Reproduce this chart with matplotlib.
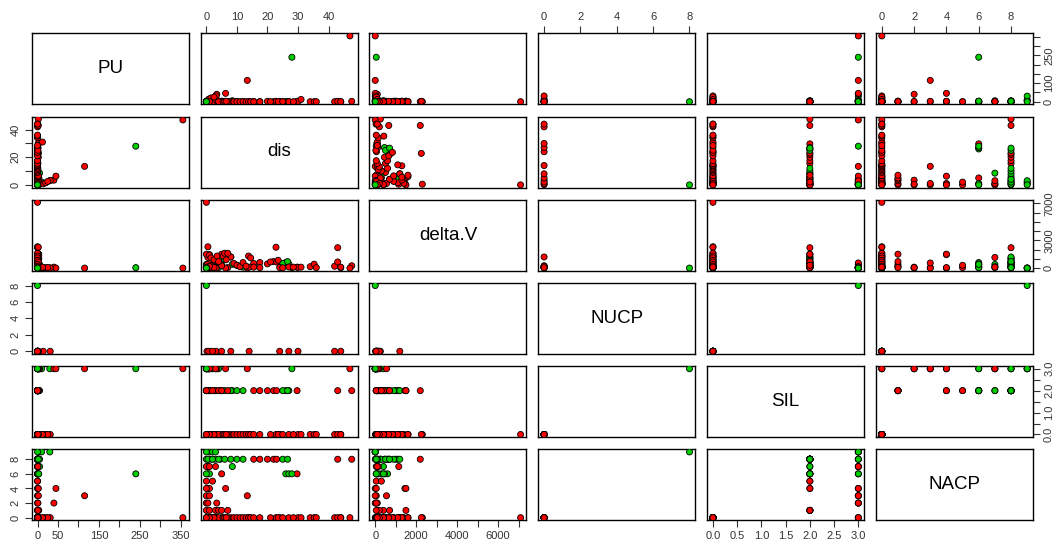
import numpy as np
import matplotlib
matplotlib.use('Agg')
import matplotlib.pyplot as plt

plt.rcParams['font.family'] = ['Liberation Sans', 'DejaVu Sans']

# ---------------- data (one entry per observation, in drawing order) ----------------
var_names = ['PU', 'dis', 'delta.V', 'NUCP', 'SIL', 'NACP']

PU = [
    0, 2,
    0,
    1, 0, 2, 0, 1, 0, 2,
    0, 1, 0, 1, 240, 3,
    5,
    0, 1, 0, 3, 0, 2, 0, 1, 0, 0, 1,
    0, 5, 2,
    5, 10, 30,
    355, 2, 5,
    0, 1, 2, 0, 3, 1,
    0, 40, 1,
    0, 115, 2,
    45, 1, 0, 2,
    0, 0,
    0, 0, 1,
    0, 0, 2, 0, 14, 31, 0, 1, 0, 0, 1, 0, 2, 0, 0, 0, 1, 0, 3, 0, 0, 1, 0, 2, 0,
    20, 25, 12, 0, 0, 1, 0, 0, 0, 0, 0, 0, 0, 1, 0, 0, 0, 0, 2, 0, 0, 0, 1,
    0,
]
dis = [
    5, 29.7,
    0.5,
    15.5, 17.5, 20, 22, 23, 43, 47.6,
    0.5, 1, 26, 27, 28, 0,
    8.5,
    0, 1, 2, 3, 4.5, 6, 8, 10, 12, 25, 26.6,
    0.5, 2, 4,
    1, 2, 3,
    47, 0.5, 1,
    0, 1, 3, 4, 5, 7,
    0, 3.4, 0.5,
    0, 13.4, 1,
    6.3, 0.5, 1, 0,
    0, 2,
    0, 1, 3,
    0, 0.5, 22.8, 0.2, 0.8, 3.2, 2, 5, 8, 14, 24, 27, 30, 42, 44, 1, 1.5, 2.5, 3.5, 4, 5.5, 6, 7, 6.5, 9,
    1.5, 2.5, 31, 10, 11, 12, 13, 13.8, 14.5, 15.5, 17.5, 21, 23.5, 25, 28.5, 34, 35.3, 36, 43, 44, 0.3, 1, 0,
    0,
]
delta_V = [
    300, 100,
    1150,
    500, 600, 450, 700, 650, 2200, 250,
    50, 150, 600, 450, 50, 400,
    400,
    50, 150, 250, 1000, 1100, 900, 1200, 300, 100, 500, 700,
    0, 100, 50,
    0, 0, 0,
    0, 50, 200,
    100, 400, 200, 700, 1500, 50,
    0, 100, 50,
    50, 0, 550,
    0, 50, 1450, 1500,
    50, 300,
    50, 150, 100,
    7100, 2300, 2250, 50, 30, 20, 150, 250, 1200, 100, 60, 120, 80, 200, 40, 1400, 1100, 900, 1300, 700, 1300, 1600, 1600, 900, 500,
    40, 60, 100, 300, 150, 600, 200, 1300, 1100, 100, 50, 660, 840, 30, 100, 150, 420, 50, 660, 100, 400, 200, 100,
    0,
]
nan = np.nan
NUCP = [
    nan, nan,
    nan,
    nan, nan, nan, nan, nan, nan, nan,
    nan, nan, nan, nan, nan, nan,
    nan,
    nan, nan, nan, nan, nan, nan, nan, nan, nan, nan, nan,
    nan, nan, nan,
    nan, nan, nan,
    nan, nan, nan,
    nan, nan, nan, nan, nan, nan,
    nan, nan, nan,
    nan, nan, nan,
    nan, nan, nan, nan,
    nan, nan,
    nan, nan, nan,
    nan, nan, nan, 0, 0, 0, 0, 0, 0, 0, 0, 0, 0, 0, 0, nan, nan, nan, nan, nan, nan, nan, nan, nan, nan,
    nan, nan, nan, nan, nan, nan, nan, nan, nan, nan, nan, nan, nan, nan, nan, nan, nan, nan, nan, nan, nan, nan, nan,
    8,
]
SIL = [
    2, 2,
    2,
    2, 2, 2, 2, 2, 2, 2,
    2, 2, 2, 2, 3, 3,
    2,
    2, 2, 2, 2, 2, 2, 2, 2, 2, 2, 2,
    3, 3, 3,
    3, 3, 3,
    3, 3, 3,
    2, 2, 2, 2, 2, 2,
    3, 3, 3,
    3, 3, 3,
    3, 3, 2, 2,
    2, 2,
    3, 3, 3,
    0, 0, 0, 0, 0, 0, 0, 0, 0, 0, 0, 0, 0, 0, 0, 0, 0, 0, 0, 0, 0, 0, 0, 0, 0,
    0, 0, 0, 0, 0, 0, 0, 0, 0, 0, 0, 0, 0, 0, 0, 0, 0, 0, 0, 0, 0, 0, 0,
    3,
]
NACP = [
    6, 6,
    7,
    8, 8, 8, 8, 8, 8, 8,
    6, 6, 6, 6, 6, 6,
    7,
    8, 8, 8, 8, 8, 8, 8, 8, 8, 8, 8,
    8, 8, 8,
    9, 9, 9,
    0, 0, 0,
    1, 1, 1, 1, 1, 1,
    2, 2, 2,
    3, 3, 3,
    4, 4, 4, 4,
    5, 5,
    7, 7, 7,
    0, 0, 0, 0, 0, 0, 0, 0, 0, 0, 0, 0, 0, 0, 0, 0, 0, 0, 0, 0, 0, 0, 0, 0, 0,
    0, 0, 0, 0, 0, 0, 0, 0, 0, 0, 0, 0, 0, 0, 0, 0, 0, 0, 0, 0, 0, 0, 0,
    9,
]
# class of each observation: 0 = red, 1 = green
cls = [
    0, 0,
    0,
    0, 0, 0, 0, 0, 0, 0,
    1, 1, 1, 1, 1, 1,
    1,
    1, 1, 1, 1, 1, 1, 1, 1, 1, 1, 1,
    1, 1, 1,
    1, 1, 1,
    0, 0, 0,
    0, 0, 0, 0, 0, 0,
    0, 0, 0,
    0, 0, 0,
    0, 0, 0, 0,
    0, 0,
    0, 0, 0,
    0, 0, 0, 0, 0, 0, 0, 0, 0, 0, 0, 0, 0, 0, 0, 0, 0, 0, 0, 0, 0, 0, 0, 0, 0,
    0, 0, 0, 0, 0, 0, 0, 0, 0, 0, 0, 0, 0, 0, 0, 0, 0, 0, 0, 0, 0, 0, 0,
    1,
]
class_colors = ['#FF0000', '#00CD00']

# tick positions and shown labels (R drops overlapping labels)
PU_ticks = [0, 50, 100, 150, 200, 250, 300, 350]
PU_bottom_labels = ['0', '50', '', '150', '', '250', '', '350']
PU_right_labels = ['0', '', '100', '', '', '250', '', '']
dis_ticks = [0, 10, 20, 30, 40]
dis_top_labels = ['0', '10', '20', '30', '40']
dis_left_labels = ['0', '', '20', '', '40']
dV_ticks = [0, 1000, 2000, 3000, 4000, 5000, 6000, 7000]
dV_bottom_labels = ['0', '', '2000', '', '4000', '', '6000', '']
dV_right_labels = ['0', '', '', '3000', '', '', '', '7000']
NUCP_ticks = [0, 2, 4, 6, 8]
NUCP_labels = ['0', '2', '4', '6', '8']
SIL_ticks = [0, 0.5, 1.0, 1.5, 2.0, 2.5, 3.0]
SIL_bottom_labels = ['0.0', '0.5', '1.0', '1.5', '2.0', '2.5', '3.0']
SIL_right_labels = ['0.0', '', '1.0', '', '2.0', '', '3.0']
NACP_ticks = [0, 2, 4, 6, 8]
NACP_labels = ['0', '2', '4', '6', '8']

# ---------------- plotting ----------------
data = [np.array(PU, float), np.array(dis, float), np.array(delta_V, float),
        np.array(NUCP, float), np.array(SIL, float), np.array(NACP, float)]
assert all(len(d) == len(cls) for d in data)
colors = [class_colors[c] for c in cls]

top_ticks = {1: (dis_ticks, dis_top_labels), 3: (NUCP_ticks, NUCP_labels), 5: (NACP_ticks, NACP_labels)}
bottom_ticks = {0: (PU_ticks, PU_bottom_labels), 2: (dV_ticks, dV_bottom_labels), 4: (SIL_ticks, SIL_bottom_labels)}
left_ticks = {1: (dis_ticks, dis_left_labels), 3: (NUCP_ticks, NUCP_labels), 5: (NACP_ticks, NACP_labels)}
right_ticks = {0: (PU_ticks, PU_right_labels), 2: (dV_ticks, dV_right_labels), 4: (SIL_ticks, SIL_right_labels)}

W, H = 1056, 545
fig = plt.figure(figsize=(W / 100, H / 100), dpi=100)
fig.patch.set_facecolor('white')

x0, px = 31.7, 168.86
y0, py = 33.3, 83.2
pw, ph = 157, 71
n = len(data)

def lims(v):
    lo, hi = np.nanmin(v), np.nanmax(v)
    pad = (hi - lo) * 0.04
    return lo - pad, hi + pad

tick_color = '#333333'
tick_kw = dict(direction='out', length=5, width=0.8, colors=tick_color, labelsize=8, pad=3)
for i in range(n):
    for j in range(n):
        left = x0 + j * px
        top = y0 + i * py
        ax = fig.add_axes([left / W, 1 - (top + ph) / H, pw / W, ph / H])
        for s in ax.spines.values():
            s.set_linewidth(1.0)
            s.set_color('black')
        ax.set_xlim(*lims(data[j]))
        ax.set_ylim(*lims(data[i]))
        ax.set_xticks([])
        ax.set_yticks([])
        if i == j:
            ax.text(0.5, 0.5, var_names[i], transform=ax.transAxes,
                    ha='center', va='center', fontsize=13.5)
        else:
            ax.scatter(data[j], data[i], s=19, c=colors, edgecolors='black',
                       linewidths=0.6, zorder=3)
        # outer axes as in R pairs()
        if i == 0 and j in top_ticks:
            t, l = top_ticks[j]
            ax.set_xticks(t)
            ax.set_xticklabels(l)
            ax.tick_params(axis='x', top=True, bottom=False,
                           labeltop=True, labelbottom=False, **tick_kw)
        if i == n - 1 and j in bottom_ticks:
            t, l = bottom_ticks[j]
            ax.set_xticks(t)
            ax.set_xticklabels(l)
            ax.tick_params(axis='x', **tick_kw)
        if j == 0 and i in left_ticks:
            t, l = left_ticks[i]
            ax.set_yticks(t)
            ax.set_yticklabels(l, rotation=90, va='center')
            ax.tick_params(axis='y', **tick_kw)
        if j == n - 1 and i in right_ticks:
            t, l = right_ticks[i]
            ax.set_yticks(t)
            ax.set_yticklabels(l, rotation=90, va='center')
            ax.tick_params(axis='y', right=True, left=False,
                           labelright=True, labelleft=False, **tick_kw)

fig.savefig('out.png', dpi=100, facecolor='white')
